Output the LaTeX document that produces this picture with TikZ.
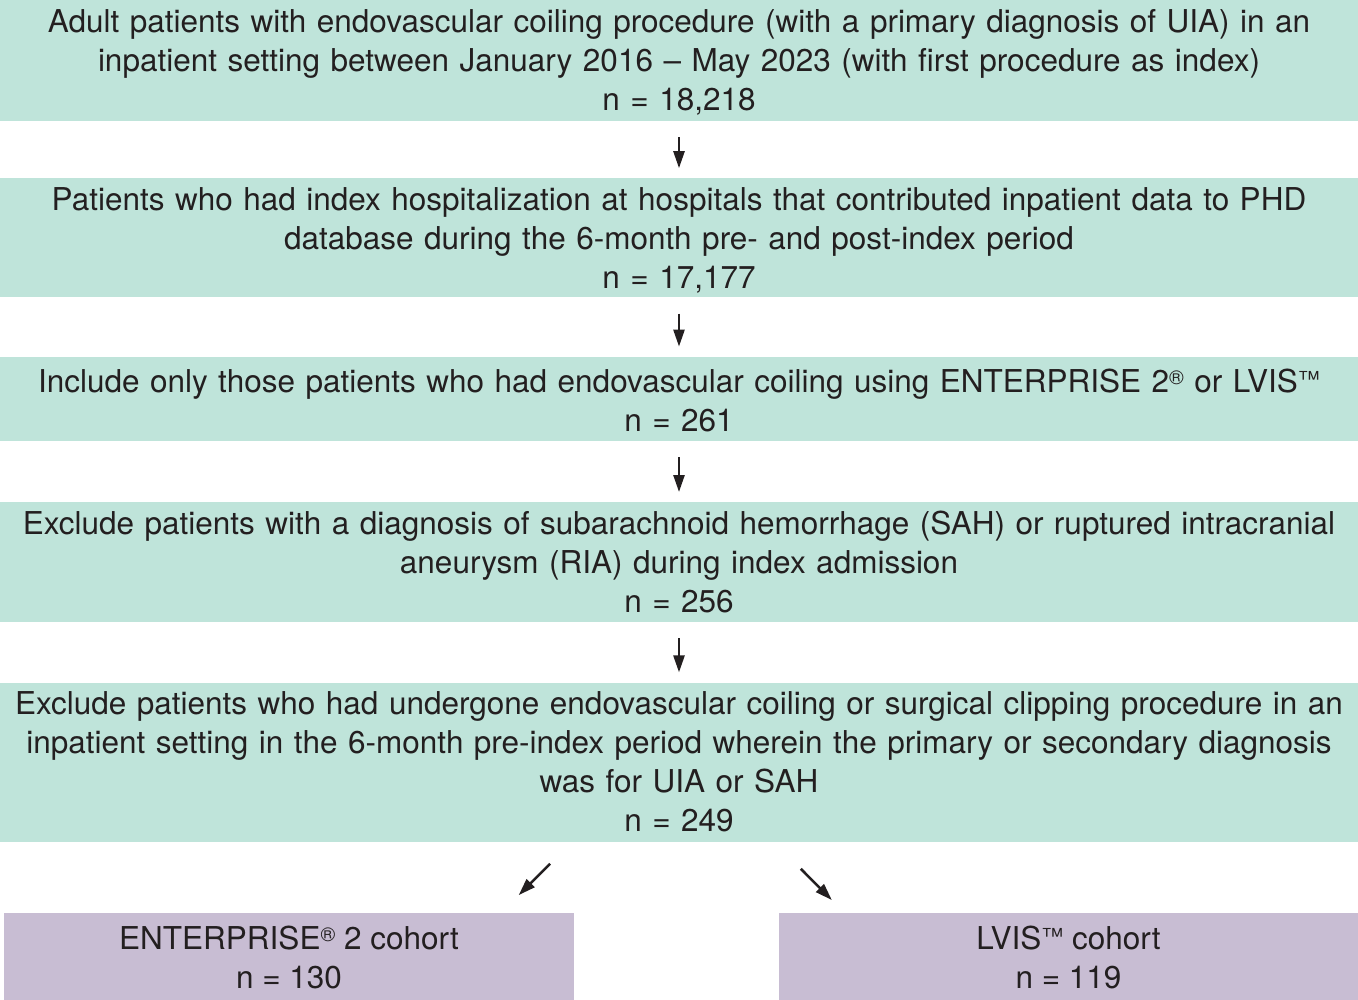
\documentclass[tikz,border=0pt]{standalone}
\usepackage{fontspec}
\usepackage{graphicx}
\setmainfont{TeX Gyre Heros}
\usetikzlibrary{positioning}
\usetikzlibrary{arrows.meta}

\definecolor{stepgreen}{RGB}{191,228,218}
\definecolor{cohortpurple}{RGB}{200,189,211}
\definecolor{inkgray}{RGB}{35,31,32}

\newcommand{\regmark}{\raisebox{0.26em}{\fontsize{20}{20}\selectfont ®}}
\newcommand{\tmmark}{\raisebox{0.17em}{\scalebox{0.7}{™}}}

\begin{document}
\begin{tikzpicture}[
    x=1pt, y=1pt,
    stepbox/.style={
        rectangle,
        fill=stepgreen,
        text=inkgray,
        align=center,
        inner xsep=0pt,
        inner ysep=0pt,
        text width=1358pt,
        font=\fontsize{31.5}{39}\selectfont
    },
    cohort/.style={
        rectangle,
        fill=cohortpurple,
        text=inkgray,
        align=center,
        inner sep=0pt,
        minimum height=89pt,
        font=\fontsize{31.5}{39}\selectfont
    },
    arrow/.style={-{Triangle[length=17pt,width=11pt]}, line width=2.5pt, draw=inkgray, shorten <=16pt, shorten >=10pt}
]
    \useasboundingbox (0,0) rectangle (1358,-1000);

    \node[stepbox, minimum height=121pt] (adult) at (679,-60.5) {\strut Adult patients with endovascular coiling procedure (with a primary diagnosis of UIA) in an\\ inpatient setting between January 2016 – May 2023 (with first procedure as index)\\ n = 18,218};
    \node[stepbox, minimum height=119pt, below=57pt of adult] (phd) {\strut Patients who had index hospitalization at hospitals that contributed inpatient data to PHD\\ database during the 6-month pre- and post-index period\\ n = 17,177};
    \node[stepbox, minimum height=84pt, below=59pt of phd] (device) {\strut Include only those patients who had endovascular coiling using ENTERPRISE 2\regmark{} or LVIS\tmmark\\ n = 261};
    \node[stepbox, minimum height=120pt, below=61pt of device] (sah) {Exclude patients with a diagnosis of subarachnoid hemorrhage (SAH) or ruptured intracranial\\ aneurysm (RIA) during index admission\\ n = 256};
    \node[stepbox, minimum height=159pt, below=60pt of sah] (prior) {Exclude patients who had undergone endovascular coiling or surgical clipping procedure in an\\ inpatient setting in the 6-month pre-index period wherein the primary or secondary diagnosis\\ was for UIA or SAH\\ n = 249};
    \node[cohort, minimum width=570pt, below right=71pt and 4pt of prior.south west] (ent) {ENTERPRISE\regmark{} 2 cohort\\ n = 130};
    \node[cohort, minimum width=579pt, below left=71pt and 0pt of prior.south east] (lvis) {LVIS\tmmark{} cohort\\ n = 119};

    \draw[arrow] (adult) -- (phd);
    \draw[arrow] (phd) -- (device);
    \draw[arrow] (device) -- (sah);
    \draw[arrow] (sah) -- (prior);
    \draw[arrow, shorten <=31pt, shorten >=25pt] ([xshift=-107pt]prior.south) -- ([xshift=212pt]ent.north);
    \draw[arrow, shorten <=38pt, shorten >=18pt] ([xshift=95pt]prior.south) -- ([xshift=-224pt]lvis.north);
\end{tikzpicture}
\end{document}
